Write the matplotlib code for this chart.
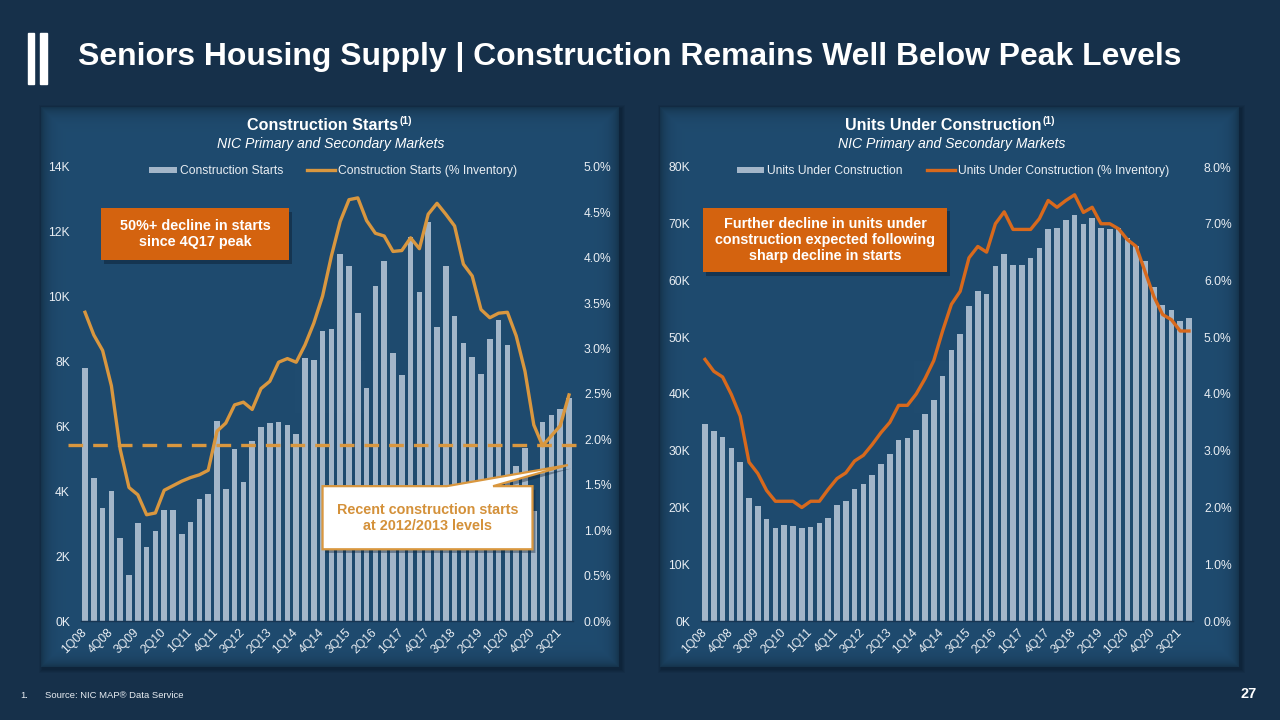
import numpy as np
import matplotlib
matplotlib.use('Agg')
import matplotlib.pyplot as plt
from matplotlib.patches import Polygon, Rectangle, Patch
from matplotlib.lines import Line2D

plt.rcParams['font.family'] = ['Liberation Sans', 'DejaVu Sans']

# ---------------- data ----------------
quarters = ['1Q08', '2Q08', '3Q08', '4Q08', '1Q09', '2Q09', '3Q09', '4Q09',
            '1Q10', '2Q10', '3Q10', '4Q10', '1Q11', '2Q11', '3Q11', '4Q11',
            '1Q12', '2Q12', '3Q12', '4Q12', '1Q13', '2Q13', '3Q13', '4Q13',
            '1Q14', '2Q14', '3Q14', '4Q14', '1Q15', '2Q15', '3Q15', '4Q15',
            '1Q16', '2Q16', '3Q16', '4Q16', '1Q17', '2Q17', '3Q17', '4Q17',
            '1Q18', '2Q18', '3Q18', '4Q18', '1Q19', '2Q19', '3Q19', '4Q19',
            '1Q20', '2Q20', '3Q20', '4Q20', '1Q21', '2Q21', '3Q21', '4Q21']

construction_starts = [7800, 4410, 3490, 4000, 2550, 1430, 3010, 2270,
                       2790, 3410, 3410, 2670, 3060, 3750, 3920, 6160,
                       4060, 5290, 4280, 5540, 5990, 6110, 6140, 6030,
                       5770, 8110, 8050, 8930, 9010, 11330, 10960, 9500,
                       7180, 10320, 11110, 8260, 7580, 11840, 10130, 12290,
                       9060, 10940, 9420, 8580, 8130, 7630, 8710, 9290,
                       8500, 4790, 5340, 3400, 6150, 6360, 6550, 6880]

starts_pct_inventory = [3.40, 3.15, 2.98, 2.59, 1.89, 1.47, 1.39, 1.17,
                        1.19, 1.44, 1.49, 1.54, 1.58, 1.61, 1.66, 2.09,
                        2.18, 2.38, 2.41, 2.33, 2.56, 2.64, 2.85, 2.89,
                        2.85, 3.04, 3.28, 3.58, 4.02, 4.40, 4.64, 4.66,
                        4.41, 4.27, 4.24, 4.07, 4.08, 4.22, 4.10, 4.48,
                        4.60, 4.48, 4.35, 3.93, 3.80, 3.43, 3.34, 3.39,
                        3.40, 3.14, 2.75, 2.16, 1.93, 2.04, 2.15, 2.49]

units_under_construction = [34800, 33400, 32400, 30500, 28100, 21700, 20300, 17900,
                            16400, 16900, 16800, 16400, 16500, 17300, 18200, 20500,
                            21100, 23200, 24100, 25800, 27600, 29500, 31900, 32200,
                            33700, 36500, 39000, 43100, 47800, 50600, 55500, 58200,
                            57700, 62600, 64700, 62800, 62800, 64000, 65800, 69000,
                            69300, 70700, 71500, 70000, 71000, 69200, 69000, 69200,
                            67500, 66000, 63500, 58900, 55600, 54800, 52900, 53400]

uc_pct_inventory = [4.61, 4.40, 4.30, 3.99, 3.61, 2.80, 2.60, 2.30,
                    2.11, 2.11, 2.11, 2.00, 2.11, 2.11, 2.32, 2.51,
                    2.61, 2.82, 2.92, 3.11, 3.32, 3.50, 3.80, 3.80,
                    4.00, 4.27, 4.59, 5.11, 5.58, 5.81, 6.40, 6.60,
                    6.50, 7.00, 7.21, 6.90, 6.90, 6.90, 7.09, 7.41,
                    7.29, 7.41, 7.51, 7.20, 7.29, 7.00, 7.00, 6.91,
                    6.72, 6.60, 6.16, 5.72, 5.40, 5.31, 5.11, 5.11]

reference_level_pct = 1.94   # dashed "2012/2013 level" line

left_yticks = [0, 2000, 4000, 6000, 8000, 10000, 12000, 14000]
left_rticks = [0.0, 0.5, 1.0, 1.5, 2.0, 2.5, 3.0, 3.5, 4.0, 4.5, 5.0]
right_yticks = [0, 10000, 20000, 30000, 40000, 50000, 60000, 70000, 80000]
right_rticks = [0.0, 1.0, 2.0, 3.0, 4.0, 5.0, 6.0, 7.0, 8.0]

# ---------------- styling ----------------
W, H = 1280, 720
BG = '#16304A'
PANEL = np.array([31, 75, 111]) / 255.0
BAR = '#A3B6C9'
LINE_L = '#D9973F'
LINE_R = '#D8691C'
ORANGE_BOX = '#D4630F'
TXT = '#E9EEF3'
SPINE = '#173552'
TICK_FS = 8.7

fig = plt.figure(figsize=(W / 100, H / 100), dpi=100)
fig.patch.set_facecolor(BG)


def fx(px):
    return px / W


def fy(py):
    return (H - py) / H


def add_panel(x0, y0, x1, y1):
    # soft drop shadow
    for k, a in [(4, 0.10), (3, 0.14), (2, 0.18), (1, 0.22)]:
        fig.patches.append(Rectangle((fx(x0 - k + 2), fy(y1 + k + 2)), fx(x1 - x0 + 2 * k),
                                     (y1 - y0 + 2 * k) / H, transform=fig.transFigure,
                                     facecolor='#0B1C2C', alpha=a, edgecolor='none', zorder=0))
    ax = fig.add_axes([fx(x0), fy(y1), fx(x1 - x0), (y1 - y0) / H], zorder=0.5)
    w, h = int(x1 - x0), int(y1 - y0)
    xx = np.arange(w)[None, :]
    yy = np.arange(h)[:, None]
    d = np.minimum(np.minimum(xx, w - 1 - xx), np.minimum(yy, h - 1 - yy)).astype(float)
    f = 1 - 0.30 * np.exp(-d / 7.0)
    img = PANEL[None, None, :] * f[:, :, None]
    ax.imshow(img, aspect='auto', extent=[0, 1, 0, 1], interpolation='nearest')
    ax.set_axis_off()
    return ax


add_panel(41, 107, 619, 667)
add_panel(660, 107, 1239, 667)

# logo bars
for (a, b) in [(28, 34), (40, 47)]:
    fig.patches.append(Rectangle((fx(a), fy(84)), fx(b - a), (84 - 33) / H,
                                 transform=fig.transFigure, color='white', zorder=5))

# main title (fit to measured width)
title = fig.text(fx(78), fy(57), 'Seniors Housing Supply | Construction Remains Well Below Peak Levels',
                 color='white', fontsize=21, fontweight='bold', ha='left', va='center')
renderer = fig.canvas.get_renderer()
tw = title.get_window_extent(renderer=renderer).width
title.set_fontsize(21 * 1104 / tw)

# footer
fig.text(fx(20), fy(695), '1.', color=TXT, fontsize=6.8, ha='left', va='center')
fig.text(fx(45), fy(695), 'Source: NIC MAP\u00ae Data Service', color=TXT, fontsize=6.8,
         ha='left', va='center')
fig.text(fx(1257), fy(694), '27', color='white', fontsize=10.5, fontweight='bold',
         ha='right', va='center')


def panel_titles(cx, title_txt):
    t = fig.text(fx(cx), fy(126), title_txt, color='white', fontsize=11.6, fontweight='bold',
                 ha='center', va='center')
    bb = t.get_window_extent(renderer=renderer)
    fig.text(bb.x1 / W + fx(1), fy(121), '(1)', color='white', fontsize=7.5, fontweight='bold',
             ha='left', va='center')
    fig.text(fx(cx + 8), fy(144), 'NIC Primary and Secondary Markets', color='white',
             fontsize=10.1, fontstyle='italic', ha='center', va='center')


panel_titles(322.5, 'Construction Starts')
panel_titles(943.5, 'Units Under Construction')

x = np.arange(len(quarters))
AX_W = 492.8
AX_B, AX_T = 621, 167


def build(ax_left_px, bars, pct, ymax, yticks, rmax, rticks, line_color, bar_label, line_label):
    ax = fig.add_axes([fx(ax_left_px), fy(AX_B), fx(AX_W), (AX_B - AX_T) / H], zorder=2)
    ax.set_facecolor('none')
    ax.bar(x, bars, width=0.62, color=BAR, zorder=2)
    ax.set_xlim(-0.5, len(quarters) - 0.5)
    ax.set_ylim(0, ymax)
    ax.set_yticks(yticks)
    ax.set_yticklabels([f'{int(v / 1000)}K' for v in yticks])
    ax.set_xticks(x[::3])
    ax.set_xticklabels(quarters[::3], rotation=45, ha='right', va='center',
                       rotation_mode='anchor')
    ax.tick_params(axis='both', length=0, colors=TXT, labelsize=TICK_FS)
    ax.tick_params(axis='y', pad=7.6)
    ax.tick_params(axis='x', pad=7)
    for s in ['top', 'left', 'right']:
        ax.spines[s].set_visible(False)
    ax.spines['bottom'].set_color(SPINE)
    ax.spines['bottom'].set_linewidth(1.0)

    axr = ax.twinx()
    axr.set_zorder(3)
    axr.set_facecolor('none')
    axr.plot(x, pct, color=line_color, lw=2.4, solid_joinstyle='round', zorder=4)
    axr.set_ylim(0, rmax)
    axr.set_yticks(rticks)
    axr.set_yticklabels([f'{v:.1f}%' for v in rticks])
    axr.tick_params(axis='y', length=0, colors=TXT, labelsize=TICK_FS, pad=7.6)
    for s in axr.spines.values():
        s.set_visible(False)

    handles = [Patch(facecolor=BAR, edgecolor='none'),
               Line2D([], [], color=line_color, lw=2.4)]
    leg = axr.legend(handles, [bar_label, line_label], loc='center', ncol=2,
                     bbox_to_anchor=(0.512, 0.991), frameon=False, fontsize=TICK_FS,
                     handlelength=2.3, handleheight=0.45, handletextpad=0.25,
                     columnspacing=2.0, borderaxespad=0)
    for t in leg.get_texts():
        t.set_color(TXT)
    return ax, axr


axL, axLr = build(80.6, construction_starts, starts_pct_inventory, 14000, left_yticks,
                  5.0, left_rticks, LINE_L, 'Construction Starts', 'Construction Starts (% Inventory)')
axR, axRr = build(700.6, units_under_construction, uc_pct_inventory, 80000, right_yticks,
                  8.0, right_rticks, LINE_R, 'Units Under Construction',
                  'Units Under Construction (% Inventory)')

# dashed reference line (extends slightly past the plot area)
axLr.plot([-0.0256, 1.017], [reference_level_pct / 5.0] * 2, transform=axLr.transAxes,
          color=LINE_L, lw=2.4, dashes=(4.4, 3.0), clip_on=False, zorder=3)


# orange callouts
def orange_box(ax, x0, y0, x1, y1, text):
    shadow = Rectangle((x0 + 0.006, y0 - 0.008), x1 - x0, y1 - y0, transform=ax.transAxes,
                       facecolor='#0E2236', alpha=0.5, edgecolor='none', zorder=8, clip_on=False)
    ax.add_patch(shadow)
    ax.add_patch(Rectangle((x0, y0), x1 - x0, y1 - y0, transform=ax.transAxes,
                           facecolor=ORANGE_BOX, edgecolor='none', zorder=9, clip_on=False))
    ax.text((x0 + x1) / 2, (y0 + y1) / 2, text, transform=ax.transAxes, color='white',
            fontsize=10.4, fontweight='bold', ha='center', va='center', linespacing=1.2,
            zorder=10)


orange_box(axLr, 0.0414, 0.795, 0.423, 0.9097, '50%+ decline in starts\nsince 4Q17 peak')
orange_box(axRr, 0.0043, 0.768, 0.5006, 0.910,
           'Further decline in units under\nconstruction expected following\nsharp decline in starts')

# white callout with pointer
bx0, by0, bx1, by1 = 0.491, 0.158, 0.917, 0.297
pts = [(bx0, by0), (bx1, by0), (bx1, by1), (0.837, by1), (0.989, 0.3436),
       (0.743, by1), (bx0, by1)]
axLr.add_patch(Polygon([(px + 0.006, py - 0.008) for px, py in pts], closed=True,
                       transform=axLr.transAxes, facecolor='#0E2236', alpha=0.4,
                       edgecolor='none', zorder=8, clip_on=False))
axLr.add_patch(Polygon(pts, closed=True, transform=axLr.transAxes, facecolor='white',
                       edgecolor=LINE_L, lw=1.6, joinstyle='miter', zorder=9, clip_on=False))
axLr.text((bx0 + bx1) / 2, (by0 + by1) / 2, 'Recent construction starts\nat 2012/2013 levels',
          transform=axLr.transAxes, color='#D4913A', fontsize=10.4, fontweight='bold',
          ha='center', va='center', linespacing=1.2, zorder=10)

fig.savefig('out.png', dpi=100, facecolor=BG)
